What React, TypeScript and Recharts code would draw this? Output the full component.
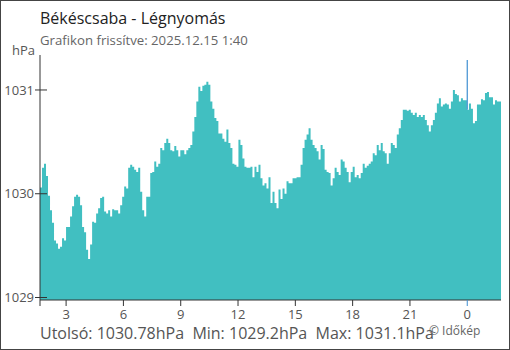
import React from 'react'
import { AreaChart, Area, XAxis, YAxis, ReferenceLine } from 'recharts'

// légnyomás (hPa), kb. 6 percenként, 1:38-tól másnap 1:46-ig
const PRESSURE_A = [
  1030.06, 1030.25, 1030.29, 1030.17, 1029.98, 1029.84, 1029.72, 1029.55, 1029.52, 1029.47,
  1029.49, 1029.57, 1029.55, 1029.68, 1029.68, 1029.78, 1029.88, 1029.97, 1029.99, 1029.97,
  1029.89, 1029.68, 1029.63, 1029.46, 1029.37, 1029.51, 1029.73, 1029.72, 1029.81, 1029.86,
  1029.96, 1029.97, 1029.83, 1029.81, 1029.84, 1029.78, 1029.85, 1029.84, 1029.84, 1029.81,
  1029.89, 1029.97, 1030.07, 1030.05, 1030.25, 1030.28, 1030.26,
]
const PRESSURE_B = [
  1030.23, 1030.21, 1030.25, 1030.02, 1029.84, 1029.78, 1029.97, 1029.97, 1030.20, 1030.21,
  1030.31, 1030.26, 1030.29, 1030.44, 1030.42, 1030.49, 1030.53, 1030.49, 1030.42, 1030.41,
  1030.46, 1030.42, 1030.36, 1030.42, 1030.42, 1030.38, 1030.42, 1030.44, 1030.47, 1030.60,
  1030.74, 1030.89, 1031.03, 1030.99, 1031.04, 1031.05, 1031.08, 1031.05, 1030.89, 1030.82,
  1030.73, 1030.70, 1030.58, 1030.58, 1030.53, 1030.50, 1030.62,
]
const PRESSURE_C = [
  1030.49, 1030.44, 1030.29, 1030.28, 1030.26, 1030.52, 1030.47, 1030.34, 1030.26, 1030.25,
  1030.25, 1030.26, 1030.16, 1030.26, 1030.21, 1030.28, 1030.15, 1030.08, 1030.10, 1030.05,
  1030.16, 1029.91, 1030.02, 1029.91, 1029.86, 1030.04, 1029.95, 1030.05, 1030.00, 1030.12,
  1030.10, 1030.10, 1030.15, 1030.15, 1030.16, 1030.16, 1030.28, 1030.44, 1030.52, 1030.57,
  1030.63, 1030.52, 1030.47, 1030.44, 1030.41, 1030.33,
]
const PRESSURE_D = [
  1030.47, 1030.43, 1030.23, 1030.21, 1030.20, 1030.08, 1030.15, 1030.25, 1030.21, 1030.18,
  1030.33, 1030.31, 1030.25, 1030.21, 1030.11, 1030.21, 1030.26, 1030.16, 1030.18, 1030.15,
  1030.20, 1030.29, 1030.25, 1030.27, 1030.29, 1030.31, 1030.39, 1030.37, 1030.47, 1030.42,
  1030.49, 1030.41, 1030.39, 1030.29, 1030.39, 1030.49, 1030.47, 1030.44, 1030.57, 1030.63,
  1030.71, 1030.81, 1030.81, 1030.80, 1030.81, 1030.78, 1030.76,
]
const PRESSURE_E = [
  1030.78, 1030.74, 1030.76, 1030.74, 1030.76, 1030.71, 1030.66, 1030.60, 1030.66, 1030.71,
  1030.78, 1030.87, 1030.92, 1030.84, 1030.86, 1030.87, 1030.86, 1030.82, 1030.89, 1031.00,
  1030.96, 1030.95, 1030.89, 1030.92, 1030.90, 1030.90, 1030.81, 1030.87, 1030.82, 1030.68,
  1030.70, 1030.86, 1030.86, 1030.91, 1030.90, 1030.97, 1030.98, 1030.93, 1030.93, 1030.86,
  1030.90, 1030.89, 1030.89, 1030.78,
]
const PRESSURE = [...PRESSURE_A, ...PRESSURE_B, ...PRESSURE_C, ...PRESSURE_D, ...PRESSURE_E]

// idő percben az előző nap éjfelétől
const START_MIN = 98
const END_MIN = 1546
const MIDNIGHT_MIN = 1440

const X_TICKS = [98, 180, 360, 540, 720, 900, 1080, 1260, 1440]
const X_LABELS = ['', '3', '6', '9', '12', '15', '18', '21', '0']
const Y_TICKS = [1029, 1030, 1031]
const Y_DOMAIN = [1028.976, 1031.337]

const LAST = '1030.78'
const MIN = '1029.2'
const MAX = '1031.1'

const STEP = (END_MIN - START_MIN) / (PRESSURE.length - 1)
const data = PRESSURE.map((p, i) => ({ t: START_MIN + i * STEP, p }))

const midIdx = data.reduce((k, d, i) => (d.t <= MIDNIGHT_MIN ? i : k), 0)

const FONT = "'Open Sans', sans-serif"

const XTick = ({ x, y, payload }: any) => {
  const i = X_TICKS.indexOf(payload.value)
  const label = X_LABELS[i] ?? ''
  const isMid = payload.value === MIDNIGHT_MIN
  return (
    <g>
      <line x1={x} y1={y} x2={x} y2={y + 6} stroke={isMid ? '#3f8fd2' : '#333'} />
      <text x={x} y={y + 19} textAnchor="middle" fill="#555" fontSize={13} fontFamily={FONT}>
        {label}
      </text>
    </g>
  )
}

const YTick = ({ x, y, payload }: any) => (
  <g>
    <line x1={x - 5} y1={y} x2={x + 7} y2={y} stroke="#333" />
    <text x={x - 6} y={y} dy="0.36em" textAnchor="end" fill="#555" fontSize={13} fontFamily={FONT}>
      {payload.value}
    </text>
  </g>
)

export default function App() {
  return (
    <div style={{ position: 'absolute', left: 0, top: 0, width: 510, height: 350, background: '#fff' }}>
      <AreaChart
        width={510}
        height={350}
        data={data}
        margin={{ top: 55, right: 9, bottom: 0, left: 0 }}
      >
        <XAxis
          dataKey="t"
          type="number"
          domain={[START_MIN, END_MIN]}
          ticks={X_TICKS}
          interval={0}
          allowDataOverflow
          height={50}
          axisLine={{ stroke: '#333' }}
          tickLine={false}
          tickSize={0}
          tickMargin={0}
          tick={<XTick />}
        />
        <YAxis
          type="number"
          domain={Y_DOMAIN}
          ticks={Y_TICKS}
          allowDataOverflow
          width={40}
          axisLine={{ stroke: '#333' }}
          tickLine={false}
          tickSize={0}
          tickMargin={0}
          tick={<YTick />}
        />
        <ReferenceLine
          segment={[
            { x: MIDNIGHT_MIN, y: 1031.29 },
            { x: MIDNIGHT_MIN, y: data[midIdx].p },
          ]}
          stroke="#3f8fd2"
          strokeWidth={1.2}
        />
        <Area
          type="stepAfter"
          dataKey="p"
          stroke="none"
          fill="#41bfc1"
          fillOpacity={1}
          dot={false}
          activeDot={false}
          isAnimationActive={false}
        />
      </AreaChart>
      <svg
        width={510}
        height={350}
        style={{ position: 'absolute', left: 0, top: 0, pointerEvents: 'none' }}
        fontFamily={FONT}
      >
        <rect x={0.5} y={0.5} width={509} height={349} fill="none" stroke="#444" />
        <text x={40} y={24} fontSize={16} fill="#222">Békéscsaba - Légnyomás</text>
        <text x={40} y={45} fontSize={13.2} fill="#666">Grafikon frissítve: 2025.12.15 1:40</text>
        <text x={12} y={55} fontSize={13} fill="#555">hPa</text>
        <text x={40} y={339} fontSize={16} fill="#555" style={{ whiteSpace: 'pre' }}>
          {`Utolsó: ${LAST}hPa  Min: ${MIN}hPa  Max: ${MAX}hPa`}
        </text>
        <text x={429} y={335} fontSize={12} fill="#666">© Időkép</text>
      </svg>
    </div>
  )
}
